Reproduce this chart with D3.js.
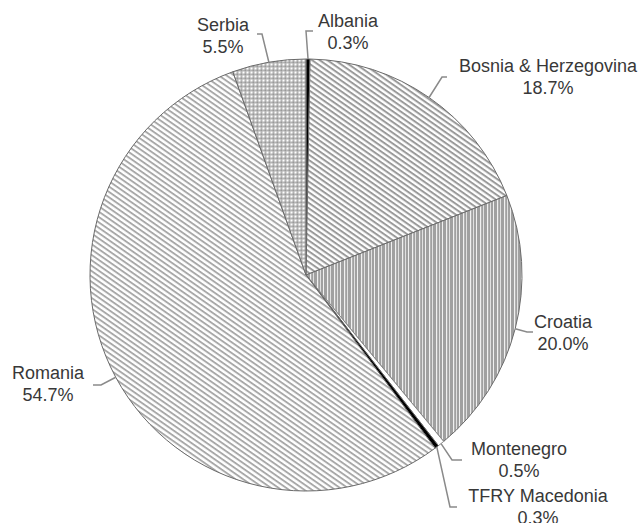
<!DOCTYPE html>
<html><head><meta charset="utf-8">
<script src="https://cdn.jsdelivr.net/npm/d3@7"></script>
<style>body{margin:0;background:#fff}svg{display:block}</style>
</head><body>
<script>
const categories = ["Albania","Bosnia & Herzegovina","Croatia","Montenegro","TFRY Macedonia","Romania","Serbia"];
const values = [0.3, 18.7, 20.0, 0.5, 0.3, 54.7, 5.5];
const valueLabels = ["0.3%","18.7%","20.0%","0.5%","0.3%","54.7%","5.5%"];
const fills = ["#000","url(#diagA)","url(#vert)","#fff","#000","url(#diagB)","url(#dots)"];
// label layout: text centre x, first baseline y, elbow, end of leader
const labelLayout = [
  {x:348, y:27, elbow:[306,31], end:[313,31]},
  {x:548, y:72, elbow:[442,77], end:[447,77]},
  {x:563, y:328, elbow:[527,332], end:[533,332]},
  {x:519, y:455, elbow:[452,460], end:[462,460]},
  {x:538, y:502, elbow:[450,507], end:[457,507]},
  {x:48, y:379, elbow:[101,385], end:[93,385]},
  {x:223, y:31, elbow:[262,34], end:[257,34]}
];

const W=644,H=523, cx=306, cy=275, R=216;
const svg=d3.select("body").append("svg").attr("width",W).attr("height",H);
const defs=svg.append("defs");
function diag(id,color,period,sw){
  const p=defs.append("pattern").attr("id",id).attr("patternUnits","userSpaceOnUse")
    .attr("width",period).attr("height",period).attr("patternTransform","rotate(35)");
  p.append("rect").attr("width",period).attr("height",period).attr("fill","#fff");
  p.append("rect").attr("y",0).attr("width",period).attr("height",sw).attr("fill",color);
}
diag("diagA","#9a9a9a",4.4,2.0);
diag("diagB","#a8a8a8",4.4,1.9);
const v=defs.append("pattern").attr("id","vert").attr("patternUnits","userSpaceOnUse").attr("width",17).attr("height",10);
v.append("rect").attr("width",17).attr("height",10).attr("fill","#a0a0a0");
[[0,1],[4,1.2],[7,0.8],[11,1.2],[14,0.8]].forEach(([x,w])=>v.append("rect").attr("x",x).attr("width",w).attr("height",10).attr("fill","#f0f0f0"));
const d=defs.append("pattern").attr("id","dots").attr("patternUnits","userSpaceOnUse").attr("width",4).attr("height",4);
d.append("rect").attr("width",4).attr("height",4).attr("fill","#b4b4b4");
d.append("rect").attr("x",0.5).attr("y",0.5).attr("width",2).attr("height",2).attr("fill","#fff");
d.append("rect").attr("x",2.7).attr("y",2.7).attr("width",1).attr("height",1).attr("fill","#808080");

const pie=d3.pie().sort(null).value(v=>v);
const arcs=pie(values);
const arc=d3.arc().innerRadius(0).outerRadius(R);
const g=svg.append("g").attr("transform",`translate(${cx},${cy})`);
g.selectAll("path").data(arcs).join("path")
  .attr("d",arc).attr("fill",(d,i)=>fills[i])
  .attr("stroke",(d,i)=>i===3?"#888":"#6a6a6a").attr("stroke-width",1);

arcs.forEach((a,i)=>{
  const m=(a.startAngle+a.endAngle)/2;
  const ax=cx+R*Math.sin(m), ay=cy-R*Math.cos(m);
  const L=labelLayout[i];
  svg.append("polyline").attr("points",[[ax,ay],L.elbow,L.end].map(p=>p.join(",")).join(" "))
    .attr("fill","none").attr("stroke","#8a8a8a").attr("stroke-width",1.5);
  const t=svg.append("text").attr("x",L.x).attr("y",L.y).attr("text-anchor","middle")
    .attr("font-family","Liberation Sans, Arial, sans-serif").attr("font-size",18).attr("fill","#383838");
  t.append("tspan").attr("x",L.x).text(categories[i]);
  t.append("tspan").attr("x",L.x).attr("dy",21.5).text(valueLabels[i]);
});
</script>
</body></html>
